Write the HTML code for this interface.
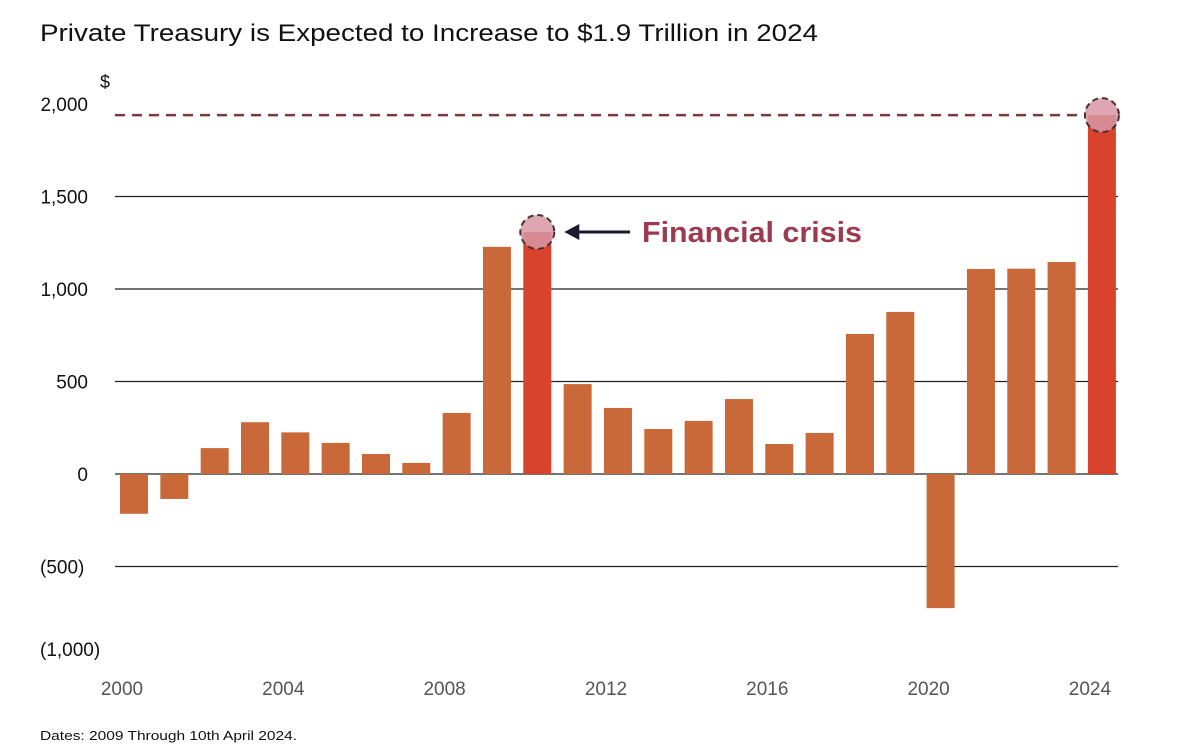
<!DOCTYPE html>
<html><head><meta charset="utf-8"><style>
body{margin:0;background:#fff;}
svg text{font-family:"Liberation Sans",sans-serif;}
</style></head><body>
<svg width="1200" height="748" viewBox="0 0 1200 748" id="c">
<text x="40" y="41" font-size="24" fill="#111" textLength="778" lengthAdjust="spacingAndGlyphs">Private Treasury is Expected to Increase to $1.9 Trillion in 2024</text>
<text x="100" y="88" font-size="18" fill="#111">$</text>
<g id="grid"></g><g id="bars"></g><g id="xl"></g>
<text x="40" y="740" font-size="13" fill="#111" textLength="257" lengthAdjust="spacingAndGlyphs">Dates: 2009 Through 10th April 2024.</text>
</svg>
<script>
const years=[2000,2001,2002,2003,2004,2005,2006,2007,2008,2009,2010,2011,2012,2013,2014,2015,2016,2017,2018,2019,2020,2021,2022,2023,2024];
const values=[-215,-135,140,280,225,168,108,60,330,1228,1308,486,357,243,287,405,162,222,757,876,-725,1108,1110,1146,1940];
const highlighted=[2010,2024];
const yTicks=[2000,1500,1000,500,0,-500,-1000];
const yTickLabels=["2,000","1,500","1,000","500","0","(500)","(1,000)"];
const xTickLabels=[2000,2004,2008,2012,2016,2020,2024];
const NS="http://www.w3.org/2000/svg";
const y=v=>474-v*0.185;
const x=yr=>134+(yr-2000)*40.33;
function mk(t,a,p){const e=document.createElementNS(NS,t);for(const k in a)e.setAttribute(k,a[k]);p.appendChild(e);return e;}
const g=document.getElementById('grid'),b=document.getElementById('bars'),xl=document.getElementById('xl'),svg=document.getElementById('c');
yTicks.forEach((v,i)=>{
 if(v<=1500&&v>=-500){const l=mk('line',{x1:115,x2:1118,y1:y(v),y2:y(v),stroke:'#222','stroke-width':1.3},g);
 
 }
 const t=mk('text',{x:v<0?40:88,y:y(v)+(v===-1000?-3:7),'font-size':19,fill:'#111','text-anchor':v<0?'start':'end'},g);
 t.textContent=yTickLabels[i];
 
 
});
years.forEach((yr,i)=>{
 const v=values[i],hl=highlighted.includes(yr);
 const r=mk('rect',{x:x(yr)-14,width:28,y:Math.min(y(v),y(0)),height:Math.abs(y(v)-y(0)),fill:hl?'#D9432E':'#C96838'},b);
 
 
});
xTickLabels.forEach(yr=>{
 const t=mk('text',{x:x(yr)-12,y:695,'font-size':19,fill:'#555','text-anchor':'middle'},xl);
 t.textContent=yr;
 
 
});
const last=values[values.length-1];
const dl=mk('line',{x1:115,x2:x(2024)-16,y1:y(last),y2:y(last),stroke:'#7a3a40','stroke-width':2.5,'stroke-dasharray':'10 7'},svg);


highlighted.forEach(yr=>{
 const v=values[years.indexOf(yr)];
 const c=mk('circle',{cx:x(yr),cy:y(v),r:17,fill:'rgba(215,150,165,0.85)',stroke:'#4a3030','stroke-width':2,'stroke-dasharray':'6 4'},svg);
 
 
});
const v10=values[years.indexOf(2010)];
const ar=mk('g',{},svg);


mk('line',{x1:x(2010)+35,x2:630,y1:y(v10),y2:y(v10),stroke:'#1a1a2a','stroke-width':3},ar);
mk('polygon',{points:`${x(2010)+27},${y(v10)} ${x(2010)+42},${y(v10)-8} ${x(2010)+42},${y(v10)+8}`,fill:'#1a1a2a'},ar);
const at=mk('text',{x:642,y:y(v10)+10,'font-size':29,fill:'#9C3A50','font-weight':'bold',textLength:220,lengthAdjust:'spacingAndGlyphs'},svg);
at.textContent='Financial crisis';


</script>
</body></html>
